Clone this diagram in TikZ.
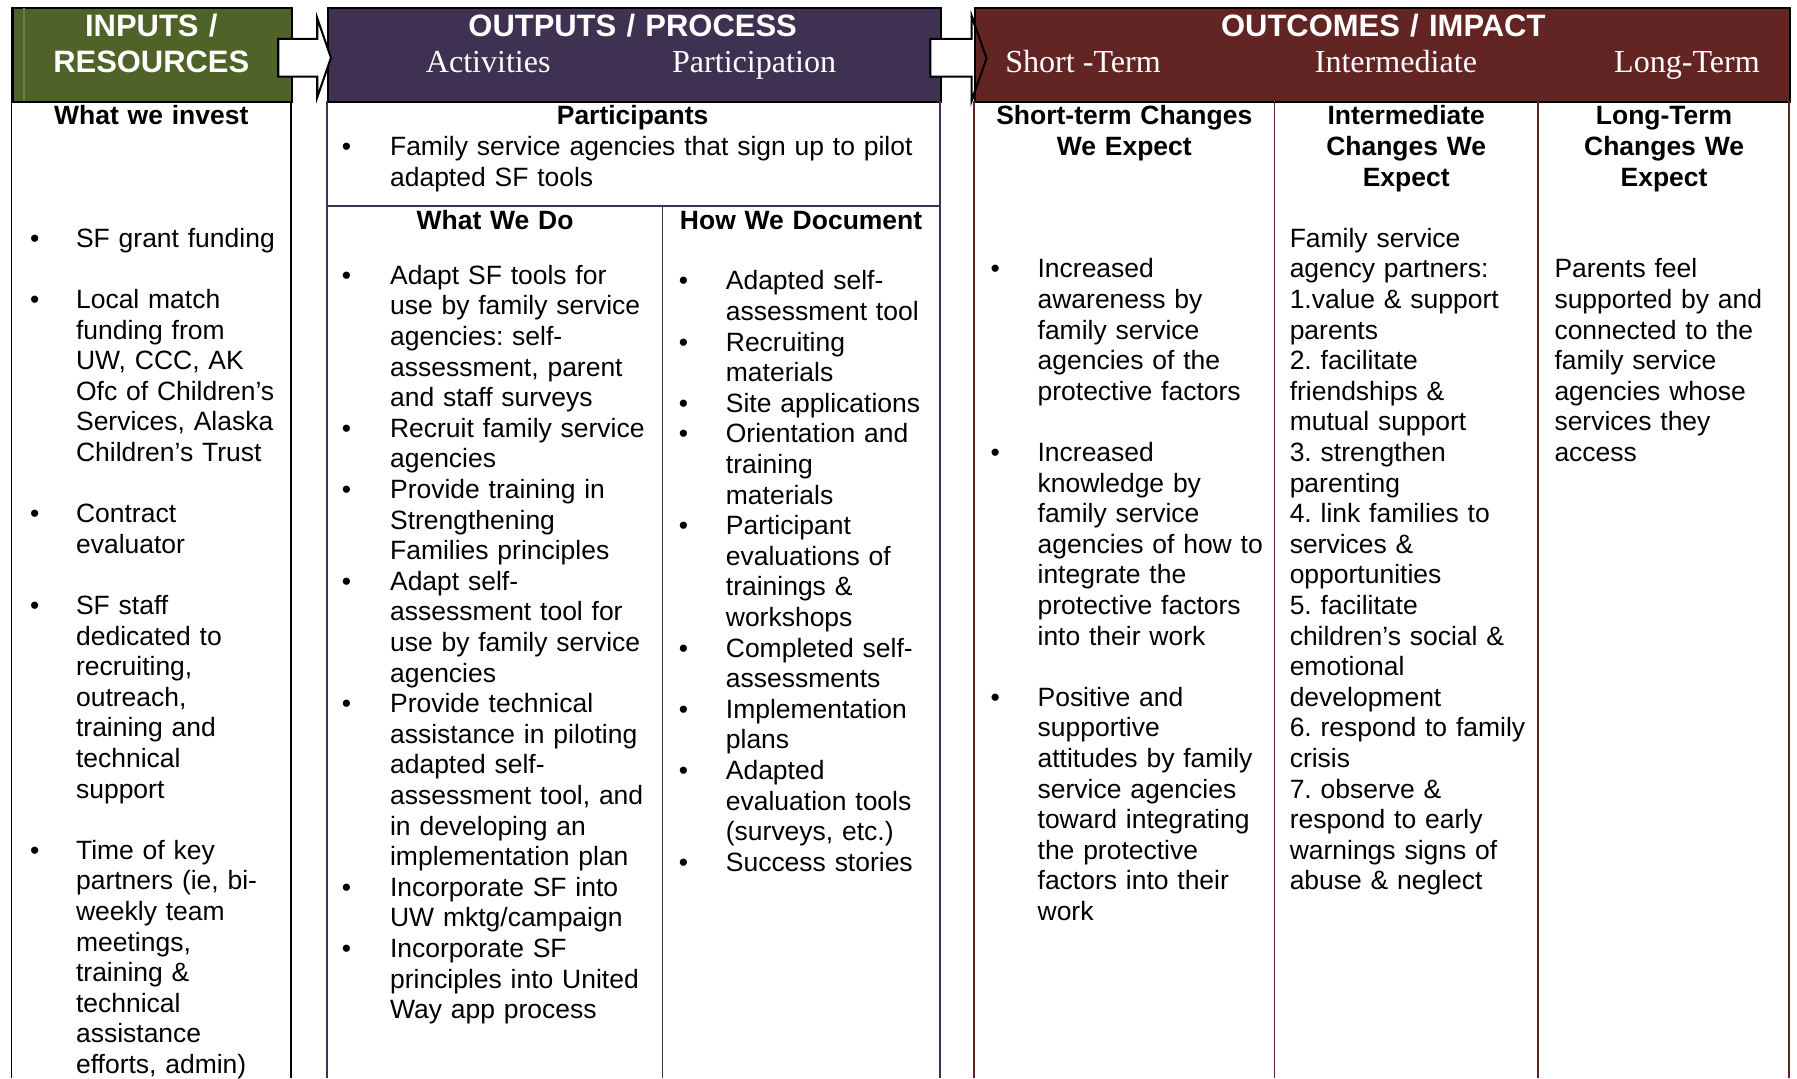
\documentclass[tikz,border=0pt]{standalone}
\usepackage{fontspec}
\setmainfont{Liberation Sans}
\newfontfamily\serifhdr{Liberation Serif}
\usetikzlibrary{calc}
\definecolor{inpgreen}{HTML}{4F6228}
\definecolor{outpurple}{HTML}{3F3151}
\definecolor{outmaroon}{HTML}{632523}
\definecolor{greenline}{HTML}{6E8048}
\newlength\bgap
\newlength\bls
\setlength\bls{13.35pt}
\newcommand\bi[1]{\leavevmode\llap{\textbullet\hspace{\bgap}}#1}
\newcommand\bodyfont{\fontsize{11.55pt}{13.35pt}\selectfont\frenchspacing}
\tikzset{
  hdrbox/.style={draw=black, line width=0.9pt, inner sep=0pt, minimum height=41pt, anchor=north west},
  hdrtitle/.style={text=white, font=\fontsize{13.5pt}{16pt}\selectfont\bfseries, inner sep=0pt, anchor=base, text width=130pt, align=center},
  hdrsub/.style={text=white, font=\serifhdr\fontsize{14pt}{16pt}\selectfont, inner sep=0pt, anchor=base},
  colhead/.style={font=\bodyfont\bfseries, inner sep=0pt, anchor=base, text width=125pt, align=center},
  blist/.style={inner sep=0pt, anchor=base west, align=left},
  blkline/.style={draw=black, line width=0.8pt},
  purline/.style={draw=outpurple, line width=0.8pt},
  marline/.style={draw=outmaroon, line width=0.8pt},
  blockarrow/.style={draw=black, line width=0.9pt, fill=white, line join=miter},
  arrowedge/.style={draw=black, line width=0.9pt, line join=miter},
}
\begin{document}
\begin{tikzpicture}[x=0.5pt,y=-0.5pt]
\useasboundingbox (0,0) rectangle (1568,941);
\fill[white] (0,0) rectangle (1568,941);

% ---------- header boxes ----------
\node[hdrbox, fill=inpgreen, minimum width=122pt] (inhdr) at (10,6) {};
\draw[greenline, line width=0.5pt] (21,7) -- (21,87);
\node[hdrbox, fill=outpurple, minimum width=267.5pt] (outhdr) at (285,6) {};

% block arrows
\begin{scope}[shift={(inhdr.east)}]
\draw[blockarrow] (-13,-14) -- (21,-14) -- (21,-32) -- (33,2.5) -- (21,37) -- (21,19) -- (-13,19) -- cycle;
\end{scope}
\begin{scope}[shift={(outhdr.east)}]
\draw[blockarrow] (-10,-14) -- (26,-14) -- (26,-34) -- (39,3) -- (26,40) -- (26,19) -- (-10,19) -- cycle;
\end{scope}

\node[hdrbox, fill=outmaroon, minimum width=355.5pt] (ochdr) at (850,6) {};
\begin{scope}[shift={(outhdr.east)}]
\draw[arrowedge] (26,-34) -- (39,3) -- (26,40);
\end{scope}

% ---------- header texts ----------
\node[hdrtitle] (intitle) at (132,31.7) {INPUTS /\\RESOURCES};
\node[hdrtitle, text width=200pt] (outtitle) at (552,31.7) {OUTPUTS / PROCESS};
\node[hdrsub] (acts) at (426,63) {Activities};
\node[hdrsub] (parts) at (658,63) {Participation};
\node[hdrtitle, text width=200pt] (octitle) at (1207,31.7) {OUTCOMES / IMPACT};
\node[hdrsub] (stsub) at (945,63) {Short -Term};
\node[hdrsub] (itsub) at (1218,63) {Intermediate};
\node[hdrsub] (ltsub) at (1472,63) {Long-Term};

% ---------- column rules ----------
\draw[blkline] (10,88) -- (10,941);
\draw[blkline] (254,88) -- (254,941);
\draw[purline] (285,88) -- (285,941);
\draw[purline] (820,88) -- (820,941);
\draw[purline] (285,180) -- (820,180);
\draw[purline] (578,180) -- (578,941);
\draw[marline] (850,88) -- (850,941);
\draw[marline] (1112,88) -- (1112,941);
\draw[marline] (1342,88) -- (1342,941);
\draw[marline] (1561,88) -- (1561,941);

% ---------- column headings ----------
\node[colhead] (investhd) at (132,109) {What we invest};
\node[colhead] (parthd) at (552,109) {Participants};
\node[colhead] (dohd) at (432,200) {What We Do};
\node[colhead] (dochd) at (699,200) {How We Document};
\node[colhead] (sthd) at (981,109) {Short-term Changes\\We Expect};
\node[colhead] (ithd) at (1227,109) {Intermediate\\Changes We\\Expect};
\node[colhead] (lthd) at (1452,109) {Long-Term\\Changes We\\Expect};

% ---------- inputs ----------
\node[blist, text width=100pt, font=\bodyfont\setlength{\bgap}{16pt}] (inlist) at (66,215.8) {%
\bi{SF grant funding}\\[\bls]
\bi{Local match}\\
funding from\\
UW, CCC, AK\\
Ofc of Children’s\\
Services, Alaska\\
Children’s Trust\\[\bls]
\bi{Contract}\\
evaluator\\[\bls]
\bi{SF staff}\\
dedicated to\\
recruiting,\\
outreach,\\
training and\\
technical\\
support\\[\bls]
\bi{Time of key}\\
partners (ie, bi-\\
weekly team\\
meetings,\\
training \&\\
technical\\
assistance\\
efforts, admin)};

% ---------- outputs ----------
\node[blist, text width=250pt, font=\bodyfont\setlength{\bgap}{17pt}] (partlist) at (340,135.7) {%
\bi{Family service agencies that sign up to pilot}\\
adapted SF tools};

\node[blist, text width=125pt, font=\bodyfont\setlength{\bgap}{17pt}] (dolist) at (340,248) {%
\bi{Adapt SF tools for}\\
use by family service\\
agencies: self-\\
assessment, parent\\
and staff surveys\\
\bi{Recruit family service}\\
agencies\\
\bi{Provide training in}\\
Strengthening\\
Families principles\\
\bi{Adapt self-}\\
assessment tool for\\
use by family service\\
agencies\\
\bi{Provide technical}\\
assistance in piloting\\
adapted self-\\
assessment tool, and\\
in developing an\\
implementation plan\\
\bi{Incorporate SF into}\\
UW mktg/campaign\\
\bi{Incorporate SF}\\
principles into United\\
Way app process};

\node[blist, text width=100pt, font=\bodyfont\setlength{\bgap}{16.5pt}] (doclist) at (633,253) {%
\bi{Adapted self-}\\
assessment tool\\
\bi{Recruiting}\\
materials\\
\bi{Site applications}\\
\bi{Orientation and}\\
training\\
materials\\
\bi{Participant}\\
evaluations of\\
trainings \&\\
workshops\\
\bi{Completed self-}\\
assessments\\
\bi{Implementation}\\
plans\\
\bi{Adapted}\\
evaluation tools\\
(surveys, etc.)\\
\bi{Success stories}};

% ---------- outcomes ----------
\node[blist, text width=110pt, font=\bodyfont\setlength{\bgap}{16.5pt}] (stlist) at (905,242.5) {%
\bi{Increased}\\
awareness by\\
family service\\
agencies of the\\
protective factors\\[\bls]
\bi{Increased}\\
knowledge by\\
family service\\
agencies of how to\\
integrate the\\
protective factors\\
into their work\\[\bls]
\bi{Positive and}\\
supportive\\
attitudes by family\\
service agencies\\
toward integrating\\
the protective\\
factors into their\\
work};

\node[blist, text width=112pt, font=\bodyfont] (itlist) at (1125,215.8) {%
Family service\\
agency partners:\\
1.value \& support\\
parents\\
2. facilitate\\
friendships \&\\
mutual support\\
3. strengthen\\
parenting\\
4. link families to\\
services \&\\
opportunities\\
5. facilitate\\
children’s social \&\\
emotional\\
development\\
6. respond to family\\
crisis\\
7. observe \&\\
respond to early\\
warnings signs of\\
abuse \& neglect};

\node[blist, text width=100pt, font=\bodyfont] (ltlist) at (1356,242.5) {%
Parents feel\\
supported by and\\
connected to the\\
family service\\
agencies whose\\
services they\\
access};
\end{tikzpicture}
\end{document}
